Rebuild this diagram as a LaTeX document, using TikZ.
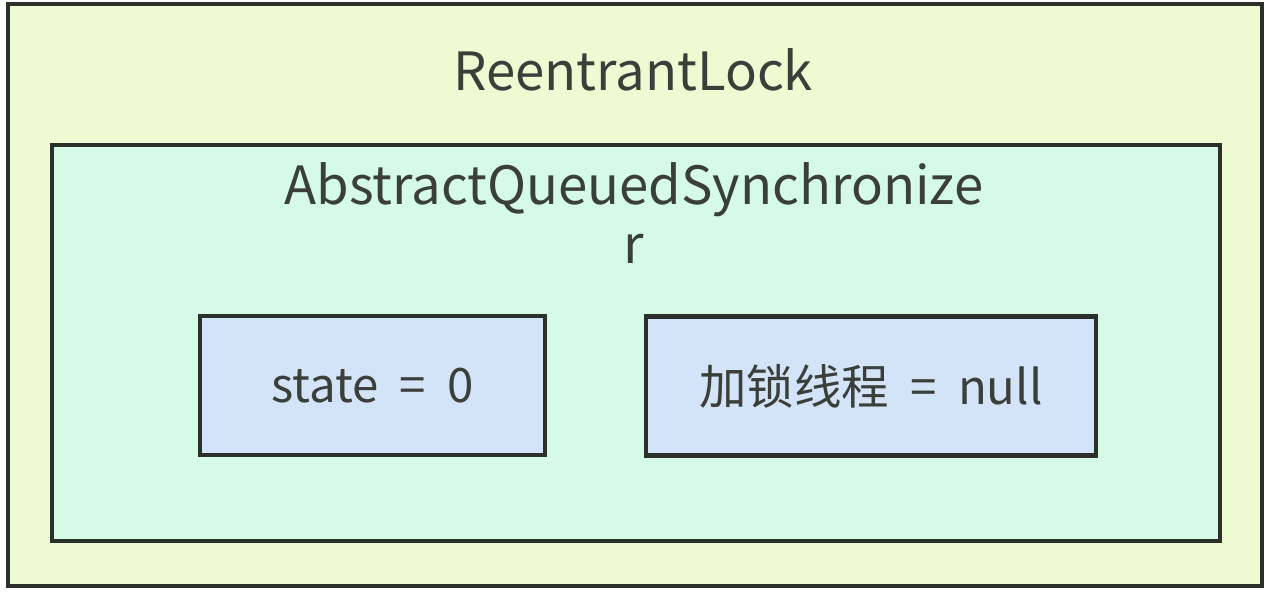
\documentclass[tikz,border=0pt]{standalone}
\usepackage{fontspec}
\setmainfont{Noto Sans CJK SC}
\usetikzlibrary{positioning}
\definecolor{lockbg}{HTML}{EEFBD2}
\definecolor{aqsbg}{HTML}{D5FBE7}
\definecolor{fieldbg}{HTML}{D4E4F8}
\definecolor{edge}{HTML}{2B302B}
\definecolor{txt}{HTML}{3A3F3A}
\newcommand{\eqgap}{\hspace{0.45em}=\hspace{0.45em}}
\tikzset{
  lockbox/.style={draw=edge,fill=lockbg,line width=2.7pt,
                  minimum width=25.08cm,minimum height=11.64cm,inner sep=0pt},
  aqsbox/.style={draw=edge,fill=aqsbg,line width=2.7pt,
                 minimum width=23.36cm,minimum height=7.92cm,inner sep=0pt},
  fieldbox/.style={draw=edge,fill=fieldbg,line width=2.7pt,
                   minimum height=2.78cm,inner sep=0pt,
                   font=\fontsize{27}{32}\selectfont,text=txt},
  titletext/.style={font=\fontsize{30}{34}\selectfont,text=txt,align=center}
}
\begin{document}
\begin{tikzpicture}[x=0.02cm,y=0.02cm]
  \useasboundingbox (0,0) rectangle (1268,594);
  % outer class and the queued synchronizer inside it
  \node[lockbox] (lock) at (635,299) {};
  \node[aqsbox] (aqs) at (636,251) {};
  \node[titletext] (locktitle) at (633,524) {ReentrantLock};
  \node[titletext,anchor=north] (aqstitle) at (634,438)
    {AbstractQueuedSynchronize\\r};
  % the two fields
  \node[fieldbox,minimum width=6.9cm] (state) at (372.5,208.5) {state\eqgap 0};
  \node[fieldbox,minimum width=9cm] (owner) at (871,208) {加锁线程\eqgap null};
\end{tikzpicture}
\end{document}
